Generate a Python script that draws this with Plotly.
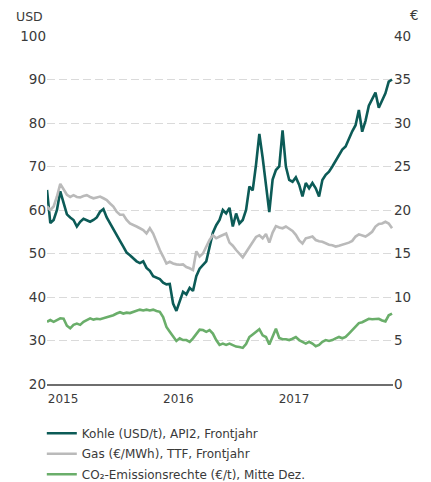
import pandas as pd
import plotly.graph_objects as go

# ---- data ----
start_date = "2015-01-01"
end_date = "2017-12-28"

kohle_usd = [
    64.6, 57.0, 57.7, 60.0, 64.3, 61.5, 59.0, 58.3, 57.7, 56.2,
    57.3, 58.0, 57.7, 57.3, 57.7, 58.3, 59.6, 60.2, 58.3, 56.9,
    55.4, 54.2, 52.9, 51.6, 50.2, 49.6, 48.8, 48.2, 47.8, 48.2,
    46.7, 46.0, 44.8, 44.4, 44.1, 43.3, 42.9, 43.0, 38.5, 36.8,
    39.0, 41.2, 40.6, 42.1, 41.4, 44.8, 46.5, 47.3, 48.2, 51.5,
    54.8, 56.5, 57.7, 60.0, 59.2, 60.5, 56.2, 59.2, 56.9, 57.7,
    60.0, 65.4, 64.5, 70.4, 77.5, 72.0, 65.0, 59.5, 67.0, 69.2,
    70.0, 78.3, 70.0, 66.9, 66.5, 67.5, 65.8, 63.1, 66.2, 65.0,
    66.2, 65.0, 63.1, 66.9, 68.1, 68.8, 70.0, 71.2, 72.7, 73.9,
    74.6, 76.5, 78.1, 79.5, 83.0, 78.0, 80.5, 84.0, 85.5, 87.0,
    83.5, 85.0, 86.8, 89.5, 90.0,
]

gas_eur = [
    20.4, 20.0, 20.4, 21.55, 23.0, 22.3, 21.75, 21.5, 21.7, 21.5,
    21.45, 21.6, 21.7, 21.5, 21.35, 21.45, 21.55, 21.35, 21.15, 20.75,
    20.4, 19.8, 19.45, 19.45, 18.85, 18.45, 18.3, 18.1, 17.9, 17.7,
    17.3, 17.9, 17.3, 16.25, 15.4, 14.65, 13.85, 14.05, 13.85, 13.75,
    13.7, 13.75, 13.45, 13.3, 13.1, 15.25, 14.65, 15.0, 15.8, 16.55,
    17.1, 16.75, 16.95, 17.1, 17.3, 16.25, 15.9, 15.4, 15.0, 14.55,
    15.15, 15.75, 16.25, 16.9, 17.1, 16.75, 17.25, 16.25, 17.4, 18.15,
    18.0, 17.9, 18.1, 17.8, 17.6, 17.15, 16.5, 16.15, 16.75, 16.85,
    16.95, 16.55, 16.4, 16.35, 16.15, 16.0, 15.95, 15.8, 15.9, 16.0,
    16.15, 16.25, 16.45, 16.95, 17.2, 17.05, 16.95, 17.2, 17.5, 18.1,
    18.4, 18.45, 18.65, 18.45, 17.9,
]

co2_eur = [
    7.15, 7.35, 7.15, 7.35, 7.55, 7.5, 6.7, 6.4, 6.8, 6.95,
    6.8, 7.15, 7.4, 7.55, 7.4, 7.5, 7.45, 7.55, 7.7, 7.8,
    7.9, 8.1, 8.25, 8.1, 8.2, 8.15, 8.3, 8.45, 8.55, 8.45,
    8.55, 8.45, 8.55, 8.4, 8.3, 7.7, 6.55, 6.0, 5.4, 4.95,
    5.25, 5.05, 5.05, 4.85, 5.25, 5.75, 6.25, 6.2, 6.0, 6.2,
    5.8, 5.05, 4.5, 4.65, 4.5, 4.65, 4.5, 4.3, 4.25, 4.15,
    4.6, 5.4, 5.7, 6.0, 6.3, 5.6, 5.4, 4.55, 5.5, 6.35,
    5.3, 5.15, 5.15, 5.05, 5.2, 5.4, 5.05, 4.85, 4.65, 4.85,
    4.65, 4.35, 4.5, 4.85, 5.05, 4.95, 5.05, 5.25, 5.4, 5.25,
    5.4, 5.8, 6.2, 6.55, 7.0, 7.1, 7.3, 7.5, 7.45, 7.45,
    7.5, 7.3, 7.2, 7.9, 8.1,
]

dates = pd.date_range(start_date, end_date, periods=len(kohle_usd))

series_names = [
    "Kohle (USD/t), API2, Frontjahr",
    "Gas (€/MWh), TTF, Frontjahr",
    "CO₂-Emissionsrechte (€/t), Mitte Dez.",
]
usd_ticks = [20, 30, 40, 50, 60, 70, 80, 90, 100]
eur_ticks = [0, 5, 10, 15, 20, 25, 30, 35, 40]
year_ticks = ["2015-01-01", "2016-01-01", "2017-01-01"]
year_labels = ["2015", "2016", "2017"]

# ---- styling ----
FONT = "DejaVu Sans"
TXT = "#3a3a3a"
C_KOHLE = "#0c5b57"
C_GAS = "#bababa"
C_CO2 = "#6aae6a"

fig = go.Figure()
fig.add_trace(go.Scatter(x=dates, y=gas_eur, name=series_names[1], yaxis="y2",
                         mode="lines", line=dict(color=C_GAS, width=2.6),
                         legendrank=2, legendgroup="g"))
fig.add_trace(go.Scatter(x=dates, y=co2_eur, name=series_names[2], yaxis="y2",
                         mode="lines", line=dict(color=C_CO2, width=2.6),
                         legendrank=3, legendgroup="c"))
fig.add_trace(go.Scatter(x=dates, y=kohle_usd, name=series_names[0], yaxis="y",
                         mode="lines", line=dict(color=C_KOHLE, width=2.6),
                         legendrank=1, legendgroup="k"))

# page body has an 8px default margin -> figure drawn 8px smaller, shifted
fig.update_layout(
    width=423, height=474,
    margin=dict(l=39, r=38, t=28, b=98, autoexpand=False),
    paper_bgcolor="white", plot_bgcolor="white",
    font=dict(family=FONT, size=12, color=TXT),
    showlegend=True,
    legend=dict(x=-0.015, y=-0.1, xanchor="left", yanchor="top",
                orientation="v", font=dict(size=12, color=TXT),
                tracegroupgap=1.5, bgcolor="rgba(0,0,0,0)"),
    xaxis=dict(type="date", range=[start_date, "2017-12-31"],
               tickvals=year_ticks, ticktext=year_labels,
               ticklabelposition="outside right", ticklabelstandoff=3,
               showgrid=False, zeroline=False,
               showline=True, linecolor="#6e6e6e", linewidth=1.5,
               ticks="", tickfont=dict(size=12, color=TXT)),
    yaxis=dict(range=[20, 100], tickvals=usd_ticks,
               showgrid=True, gridcolor="#dadada", gridwidth=1,
               griddash="8px,4px", zeroline=False, showline=False,
               ticks="", tickfont=dict(size=13.5, color=TXT)),
    yaxis2=dict(range=[0, 40], tickvals=eur_ticks, overlaying="y",
                side="right", showgrid=False, zeroline=False,
                showline=False, ticks="",
                tickfont=dict(size=13.5, color=TXT)),
    annotations=[
        dict(text="USD", xref="paper", yref="paper", x=-0.095, y=1.055,
             xanchor="left", yanchor="middle", showarrow=False,
             font=dict(size=12.5, color=TXT)),
        dict(text="€", xref="paper", yref="paper", x=1.043, y=1.06,
             xanchor="left", yanchor="middle", showarrow=False,
             font=dict(size=13.5, color=TXT)),
    ],
)

fig.write_html("out.html")
